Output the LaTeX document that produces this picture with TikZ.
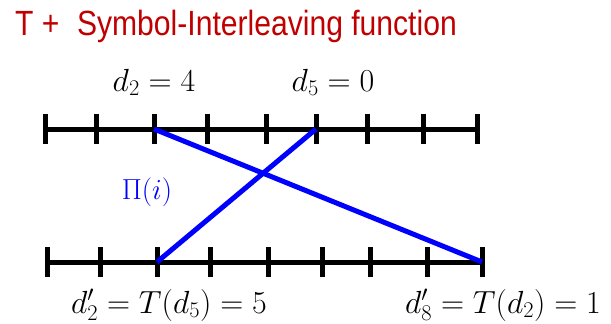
\RequirePackage{fix-cm}
\documentclass[tikz,border=0pt]{standalone}
\usepackage{amsmath}
\usepackage{fontspec}
\usepackage{xcolor}
\usetikzlibrary{calc}
\newfontfamily\titlefont[FakeStretch=0.86]{Liberation Sans}
\definecolor{titlered}{HTML}{C00000}

\begin{document}
\begin{tikzpicture}[
      x=1pt, y=-1pt,
      every node/.style={inner sep=0pt},
      axis/.style={line width=5pt, black},
      tickmark/.style={line width=5pt, black},
      perm/.style={line width=5pt, blue},
      lab/.style={font=\fontsize{32}{36}\selectfont, anchor=base},
      plab/.style={font=\fontsize{29}{32}\selectfont, anchor=base, text=blue}
  ]
    \useasboundingbox (0,0) rectangle (611,324);

    % --- Title ---
    \node[anchor=base west, text=titlered, font=\titlefont\fontsize{35}{40}\selectfont]
          (title) at (15,35) {T +\hspace{0.5em}Symbol-Interleaving function};

    % --- Top sequence ---
    \foreach \i/\x in {1/45, 2/96, 3/154, 4/207, 5/266, 6/316, 7/367, 8/423, 9/477} {
      \coordinate (t\i) at (\x,129);
    }
    \draw[axis] (t1) -- (t9);
    \foreach \i in {1,...,9} {
      \draw[tickmark] ([yshift=15pt]t\i) -- ([yshift=-15pt]t\i);
    }
    \node[lab] (dtwo) at (154,91) {$d_2=4$};
    \node[lab] (dfive) at (333,91) {$d_5=0$};

    % --- Bottom sequence ---
    \foreach \i/\x in {1/47, 2/100, 3/157, 4/210, 5/268, 6/322, 7/370, 8/427, 9/482} {
      \coordinate (b\i) at (\x,262);
    }
    \draw[axis] (b1) -- (b9);
    \foreach \i in {1,...,9} {
      \draw[tickmark] ([yshift=15pt]b\i) -- ([yshift=-15pt]b\i);
    }
    \node[lab] (dptwo) at (169,313) {$d'_2=T(d_5)=5$};
    \node[lab] (dpeight) at (503,313) {$d'_8=T(d_2)=1$};

    % --- Interleaving map ---
    \draw[perm] (t3) -- (b9);
    \draw[perm] (t6) -- (b3);
    \node[plab] (pi) at (147,199) {$\Pi(i)$};

  \end{tikzpicture}
\end{document}
